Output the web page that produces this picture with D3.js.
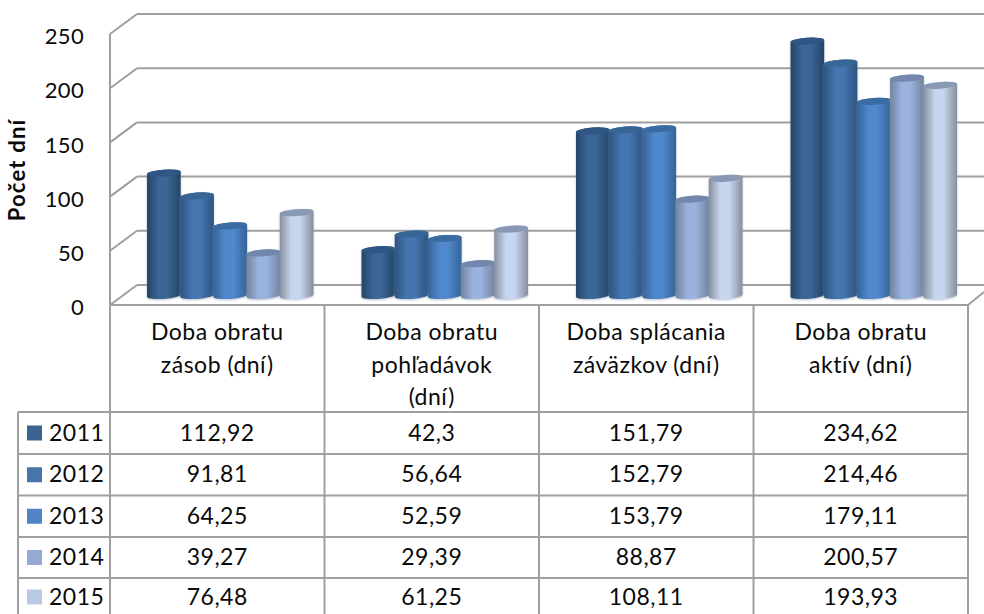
<!DOCTYPE html>
<html><head><meta charset="utf-8">
<script src="https://cdnjs.cloudflare.com/ajax/libs/d3/7.8.5/d3.min.js"></script>
<style>html,body{margin:0;background:#fff}svg{display:block}text{font-family:Lato,"Open Sans",sans-serif;fill:#0a0a0a}</style>
</head><body><svg id="c" width="984" height="614"></svg>
<script>
const categories=[["Doba obratu","zásob (dní)"],["Doba obratu","pohľadávok","(dní)"],["Doba splácania","záväzkov (dní)"],["Doba obratu","aktív (dní)"]];
const years=["2011","2012","2013","2014","2015"];
const values2011=[112.92,42.3,151.79,234.62];
const values2012=[91.81,56.64,152.79,214.46];
const values2013=[64.25,52.59,153.79,179.11];
const values2014=[39.27,29.39,88.87,200.57];
const values2015=[76.48,61.25,108.11,193.93];
const labels2011=["112,92","42,3","151,79","234,62"];
const labels2012=["91,81","56,64","152,79","214,46"];
const labels2013=["64,25","52,59","153,79","179,11"];
const labels2014=["39,27","29,39","88,87","200,57"];
const labels2015=["76,48","61,25","108,11","193,93"];
const yTicks=[0,50,100,150,200,250];
const swatch=["#3b6390","#4674ab","#4f84c6","#94aad3","#b9c8e3"];
const edge=["#244567","#2c5481","#346497","#73849f","#878f9e"];
const mid=["#3a6695","#4475ae","#5088cc","#9ab2de","#c7d6f0"];
const topc=["#2f5684","#376596","#3a6ba3","#7287ab","#8898b5"];
const series=[values2011,values2012,values2013,values2014,values2015];
const tableRows=[labels2011,labels2012,labels2013,labels2014,labels2015];

const svg=d3.select("#c");
const grey="#9f9f9f";
const L=110,R=968,dx=27,dy=-20;
const y=d3.scaleLinear().domain([0,250]).range([305,34]);
const x0=d3.scaleBand().domain(d3.range(4)).range([L,R]);
const x1=d3.scaleBand().domain(d3.range(5)).range([37,37+166]);
const yBar=v=>y(v)-9.5;

const defs=svg.append("defs");
years.forEach((yr,i)=>{
  const g=defs.append("linearGradient").attr("id","g"+i);
  [[0,edge[i]],[.35,mid[i]],[.6,mid[i]],[1,edge[i]]].forEach(s=>g.append("stop").attr("offset",s[0]).attr("stop-color",s[1]));
});
const f=defs.append("filter").attr("id","sh").attr("x","-20%").attr("y","-5%").attr("width","140%").attr("height","110%");
f.append("feDropShadow").attr("dx",0).attr("dy",1).attr("stdDeviation",1.2).attr("flood-color","#7f8fa5").attr("flood-opacity",.55);

// walls
const wall=svg.append("g").attr("stroke",grey).attr("stroke-width",2).attr("fill","none");
yTicks.forEach(t=>{
  wall.append("line").attr("x1",L).attr("y1",y(t)).attr("x2",L+dx).attr("y2",y(t)+dy);
  wall.append("line").attr("x1",L+dx).attr("y1",y(t)+dy).attr("x2",984).attr("y2",y(t)+dy);
});
wall.append("line").attr("x1",L).attr("x2",L).attr("y1",y(250)).attr("y2",y(0));
wall.append("line").attr("x1",L).attr("x2",R).attr("y1",y(0)).attr("y2",y(0));
wall.append("line").attr("x1",R).attr("y1",y(0)).attr("x2",984).attr("y2",y(0)-13);

// bars
const bars=svg.append("g");
categories.forEach((c,ci)=>{
  series.forEach((s,si)=>{
    const a=x0(ci)+x1(si),b=a+x1.bandwidth()+.5,v=s[ci];
    const top=yBar(v),rx=(b-a)/2,ry=3.4,rot=-4,t=1.2,base=y(0)-9.5;
    bars.append("path").attr("filter","url(#sh)").attr("fill",`url(#g${si})`)
      .attr("d",`M${a},${top+t}A${rx},${ry} ${rot} 0 1 ${b},${top-t}L${b},${base-t}A${rx},${ry} ${rot} 0 1 ${a},${base+t}Z`);
    bars.append("path").attr("fill",topc[si])
      .attr("d",`M${a},${top+t}A${rx},${ry} ${rot} 0 1 ${b},${top-t}A${rx},${ry} ${rot} 0 1 ${a},${top+t}Z`);
  });
});

// y axis
const ax=svg.append("g").attr("transform","translate(90,0)")
  .call(d3.axisLeft(y).tickValues(yTicks).tickSize(0).tickPadding(6));
ax.select(".domain").remove();
ax.selectAll("text").attr("font-size",22).attr("dy","0.44em").attr("letter-spacing",.3).style("font-family","Lato");
svg.append("text").attr("transform","translate(25,170) rotate(-90)").attr("text-anchor","middle")
  .attr("font-size",22).attr("font-weight",700).attr("letter-spacing",1.2).text("Počet dní");

// table
const rowY=[412,454,495.5,537,578,620];
const tb=svg.append("g").attr("stroke",grey).attr("stroke-width",2);
x0.domain().concat(4).forEach(i=>{
  const xx=i<4?x0(i):R;
  tb.append("line").attr("x1",xx).attr("x2",xx).attr("y1",y(0)).attr("y2",614);
});
tb.append("line").attr("x1",18).attr("x2",18).attr("y1",rowY[0]).attr("y2",614);
rowY.slice(0,5).forEach(r=>tb.append("line").attr("x1",18).attr("x2",R).attr("y1",r).attr("y2",r));

const ls=.5,fs=23;
categories.forEach((c,ci)=>{
  c.forEach((ln,li)=>svg.append("text").attr("x",x0(ci)+x0.bandwidth()/2).attr("y",340+li*32.5)
    .attr("text-anchor","middle").attr("font-size",fs).attr("letter-spacing",ls).text(ln));
});
years.forEach((yr,ri)=>{
  const my=(rowY[ri]+rowY[ri+1])/2;
  const cy=ri===4?597:my;
  svg.append("rect").attr("x",27).attr("y",cy-7.5).attr("width",15).attr("height",15).attr("fill",swatch[ri]);
  svg.append("text").attr("x",49).attr("y",cy+7.5).attr("font-size",fs).attr("letter-spacing",ls).text(yr);
  tableRows[ri].forEach((t,ci)=>svg.append("text").attr("x",x0(ci)+x0.bandwidth()/2).attr("y",cy+7.5)
    .attr("text-anchor","middle").attr("font-size",fs).attr("letter-spacing",ls).text(t));
});
</script></body></html>
